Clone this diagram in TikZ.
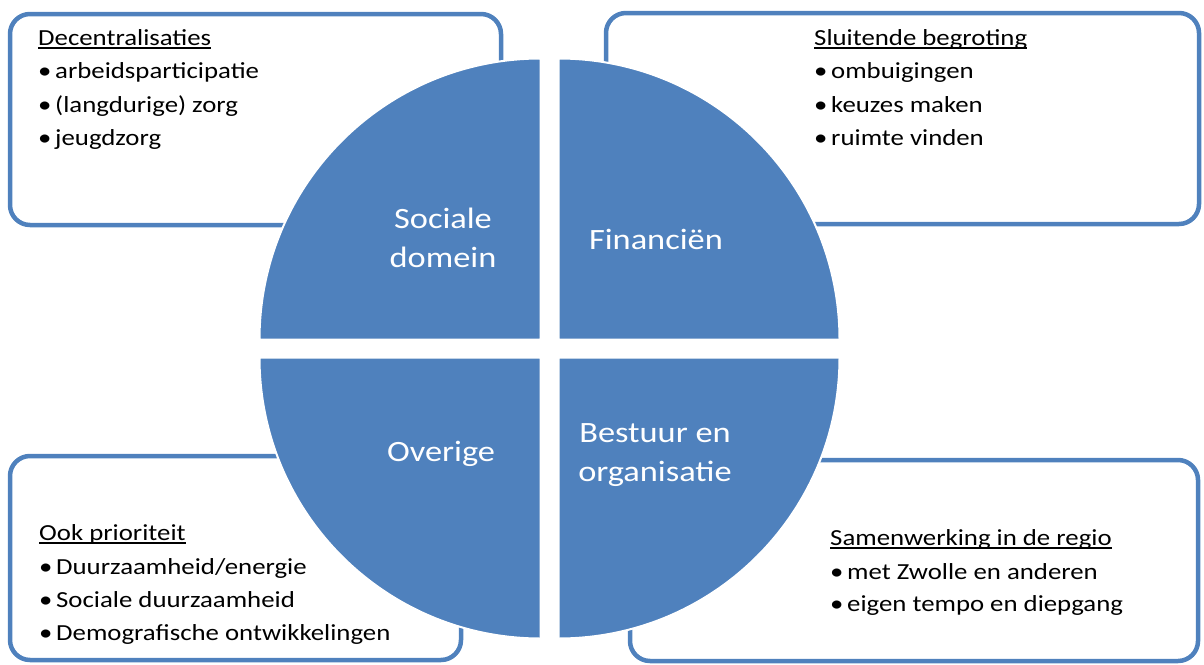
\documentclass[tikz,border=0pt]{standalone}
\usepackage{fontspec}
\setmainfont{Carlito}[FakeStretch=1.165]
\definecolor{qblue}{HTML}{4F81BD}
\newsavebox{\ulbox}
\newcommand\myul[1]{\sbox{\ulbox}{#1}\rlap{\rule[-3.6pt]{\wd\ulbox}{1.6pt}}\usebox{\ulbox}}
\newcommand\bul{\makebox[17pt][l]{\textbullet}}
\begin{document}
\begin{tikzpicture}[x=1pt,y=-1pt,
  tbox/.style={draw=qblue,line width=4.5pt,rounded corners=20pt},
  quad/.style={fill=qblue,draw=white,line width=2pt},
  itm/.style={anchor=base west,inner sep=0pt,font=\fontsize{23}{28}\selectfont},
  qlab/.style={align=center,text=white,inner sep=0pt,font=\fontsize{29.5}{38.5}\selectfont}]
\useasboundingbox (0,0) rectangle (1204,664);
% text boxes
\draw[tbox] (10,14) rectangle (501,225);
\draw[tbox] (606,13) rectangle (1199,224);
\draw[tbox] (10,456) rectangle (461,660);
\draw[tbox] (630,460) rectangle (1198,661);
% quadrants
\coordinate (c) at (549.5,348.5);
\draw[quad] (540.5,339.5) -- (259.5,339.5) arc[start angle=180,end angle=270,radius=281] -- cycle;
\draw[quad] (558.5,339.5) -- (558.5,58.5) arc[start angle=270,end angle=360,radius=281] -- cycle;
\draw[quad] (540.5,357.5) -- (540.5,638.5) arc[start angle=90,end angle=180,radius=281] -- cycle;
\draw[quad] (558.5,357.5) -- (839.5,357.5) arc[start angle=0,end angle=90,radius=281] -- cycle;
% quadrant labels
\node[qlab] (q1) at (443,238) {Sociale\\domein};
\node[qlab] (q2) at (656,239) {Financiën};
\node[qlab] (q3) at (441,454) {Overige};
\node[qlab] (q4) at (655,455) {Bestuur en\\organisatie};
% top-left
\node[itm] (a0) at (38,45) {\myul{Decentralisaties}};
\node[itm] (a1) at (38,78) {\bul arbeidsparticipatie};
\node[itm] (a2) at (38,112) {\bul (langdurige) zorg};
\node[itm] (a3) at (38,145) {\bul jeugdzorg};
% top-right
\node[itm] (b0) at (814,45) {\myul{Sluitende begroting}};
\node[itm] (b1) at (814,78) {\bul ombuigingen};
\node[itm] (b2) at (814,112) {\bul keuzes maken};
\node[itm] (b3) at (814,145) {\bul ruimte vinden};
% bottom-left
\node[itm] (c0) at (39,540) {\myul{Ook prioriteit}};
\node[itm] (c1) at (39,574) {\bul Duurzaamheid/energie};
\node[itm] (c2) at (39,607) {\bul Sociale duurzaamheid};
\node[itm] (c3) at (39,640) {\bul Demografische ontwikkelingen};
% bottom-right
\node[itm] (d0) at (830,545) {\myul{Samenwerking in de regio}};
\node[itm] (d1) at (830,579) {\bul met Zwolle en anderen};
\node[itm] (d2) at (830,611) {\bul eigen tempo en diepgang};
\end{tikzpicture}
\end{document}
